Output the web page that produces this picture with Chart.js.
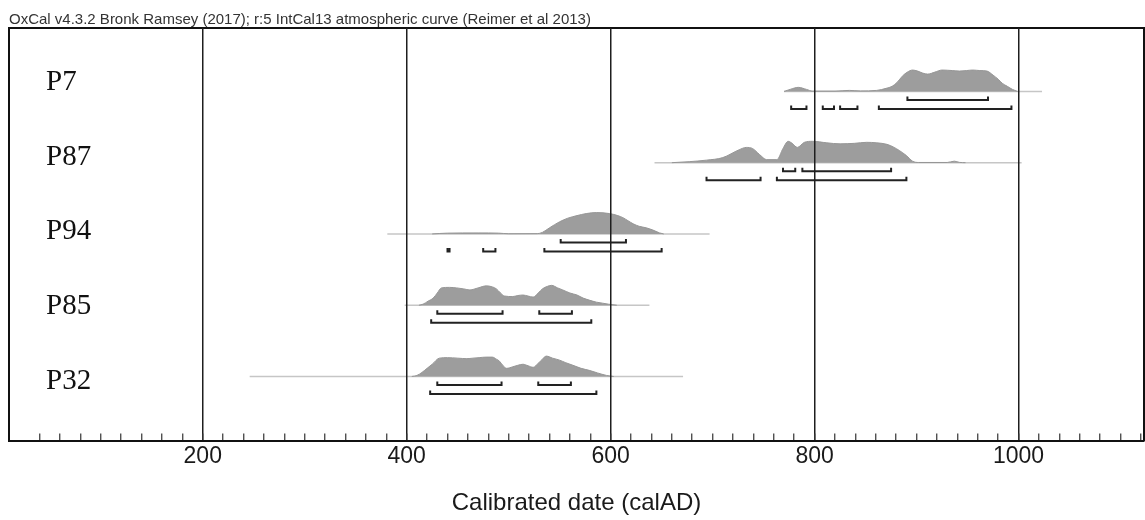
<!DOCTYPE html>
<html>
<head>
<meta charset="utf-8">
<script src="https://cdn.jsdelivr.net/npm/chart.js@4.4.1/dist/chart.umd.min.js"></script>
<style>
  html, body { margin: 0; padding: 0; background: #fff; }
  #wrap { width: 1145px; height: 520px; }
</style>
</head>
<body>
<div id="wrap"><canvas id="oxcalChart"></canvas></div>
<script>
// samples, top to bottom
const samples = ['P7', 'P87', 'P94', 'P85', 'P32'];

// full plotted range of each likelihood (light grey line)
const rangeStart = [770, 643, 381, 398, 246];
const rangeEnd = [1023, 1003, 697, 638, 671];

// probability distributions (relative probability)
const p7Years = [770, 776, 784, 792, 798, 820, 834, 845, 861, 870, 876, 881, 886, 891, 896, 901, 906, 911, 918, 925, 935, 942, 949, 955, 962, 969, 975, 980, 984, 989, 994, 999];
const p7Prob = [0, 2, 4, 2, 0.3, 0.3, 1, 0.5, 1, 3, 5, 9, 15, 19, 21, 20, 18, 17, 19, 21, 20.5, 20, 20.5, 21, 20.5, 20, 16, 12, 8, 5, 2, 0];

const p87Years = [660, 677, 694, 710, 726, 733, 739, 746, 753, 763, 769, 774, 778, 783, 790, 798, 812, 825, 839, 851, 861, 871, 878, 883, 890, 896, 902, 930, 937, 942, 948];
const p87Prob = [0, 1, 2.5, 5, 12.7, 15, 14, 8, 3, 3, 14, 21, 19, 15, 20, 21, 19.5, 18.5, 19, 20, 19.5, 18, 15, 12, 7, 1.5, 0.2, 0.2, 1.5, 0.3, 0];

const p94Years = [425, 440, 470, 490, 500, 528, 533, 540, 550, 558, 567, 576, 586, 599, 607, 612, 617, 622, 628, 635, 641, 648, 652];
const p94Prob = [0, 0.8, 1, 0.8, 0.2, 0.3, 1.5, 6, 12, 15.5, 18, 20, 21, 20, 18, 16, 13, 10, 7.5, 6, 4, 1, 0];

const p85Years = [412, 416, 421, 426, 430, 434, 442, 449, 456, 462, 470, 478, 484, 488, 492, 496, 504, 509, 514, 519, 524, 529, 533, 538, 542, 548, 553, 560, 567, 573, 579, 586, 592, 598, 606];
const p85Prob = [0, 1, 4, 7, 12, 17, 17.5, 17, 16, 15, 17, 19, 18, 16, 12, 9, 8.5, 9.5, 10, 9, 8, 12, 16, 18.5, 19.5, 17, 15, 12, 10, 7, 5, 3, 2, 1, 0];

const p32Years = [405, 410, 415, 420, 425, 432, 440, 450, 459, 465, 471, 478, 484, 488, 491, 495, 498, 504, 509, 514, 519, 524, 529, 533, 537, 543, 550, 556, 563, 571, 579, 587, 596, 603];
const p32Prob = [0, 1, 4, 8, 12, 18, 18.5, 18, 17.5, 18, 18.5, 19, 19, 17, 15, 10, 8, 9.5, 11, 12, 10.5, 9, 13, 17, 20, 18, 16, 13.5, 11, 8, 6, 3.5, 1, 0];

// highest posterior density ranges (calAD)
const p7Range68 = [[891, 970]];
const p7Range95 = [[777, 792], [808, 819], [825, 842], [863, 993]];
const p87Range68 = [[769, 781], [788, 875]];
const p87Range95 = [[694, 747], [763, 890]];
const p94Range68 = [[551, 615]];
const p94Range95 = [[440, 442], [475, 487], [535, 650]];
const p85Range68 = [[430, 494], [530, 562]];
const p85Range95 = [[424, 581]];
const p32Range68 = [[430, 493], [529, 561]];
const p32Range95 = [[423, 586]];

// axis ticks
const majorTicks = [200, 400, 600, 800, 1000];
const minorStep = 20;

const headerText = 'OxCal v4.3.2 Bronk Ramsey (2017); r:5 IntCal13 atmospheric curve (Reimer et al 2013)';

const years = [p7Years, p87Years, p94Years, p85Years, p32Years];
const probs = [p7Prob, p87Prob, p94Prob, p85Prob, p32Prob];
const ranges68 = [p7Range68, p87Range68, p94Range68, p85Range68, p32Range68];
const ranges95 = [p7Range95, p87Range95, p94Range95, p85Range95, p32Range95];

const probScale = 0.3 / 21;
const bracketEnd = 0.05;

const tickValues = [];
for (let v = 40; v <= 1120; v += minorStep) tickValues.push(v);

function bracketPoints(list, y) {
    var pts = [];
    list.forEach(function (r) {
        pts.push({x: r[0], y: y + bracketEnd}, {x: r[0], y: y}, {x: r[1], y: y}, {x: r[1], y: y + bracketEnd}, {x: r[1], y: null});
    });
    return pts;
}

var datasets = [];
samples.forEach(function (name, k) {
    var row = samples.length - 1 - k;
    datasets.push({
        data: [{x: rangeStart[k], y: row}, {x: rangeEnd[k], y: row}],
        borderColor: '#c6c6c6',
        borderWidth: 1.5,
        order: 3
    });
    datasets.push({
        data: years[k].map(function (x, i) { return {x: x, y: row + probs[k][i] * probScale}; }),
        fill: {value: row},
        backgroundColor: '#9d9d9d',
        borderColor: '#969696',
        borderWidth: 1,
        cubicInterpolationMode: 'monotone',
        order: 2
    });
    datasets.push({
        data: bracketPoints(ranges68[k], row - 0.12),
        borderColor: '#222',
        borderWidth: 2,
        spanGaps: false,
        order: 1
    });
    datasets.push({
        data: bracketPoints(ranges95[k], row - 0.247),
        borderColor: '#222',
        borderWidth: 2,
        spanGaps: false,
        order: 1
    });
});

// side axes only draw a border: keep them from taking room
function flatVertical(axis) {
    axis.width = 0;
    axis.paddingTop = 0;
    axis.paddingBottom = 0;
}

var sansFont = 'Liberation Sans, Arial, sans-serif';
var ctx = document.getElementById('oxcalChart').getContext('2d');

new Chart(ctx, {
    type: 'line',
    data: { datasets: datasets },
    options: {
        responsive: true,
        maintainAspectRatio: false,
        animation: false,
        events: [],
        layout: { padding: { left: 9, right: 1, top: 0, bottom: 0 } },
        elements: { point: { radius: 0 } },
        scales: {
            x: {
                type: 'linear',
                min: 10,
                max: 1123,
                afterBuildTicks: function (axis) {
                    axis.ticks = tickValues.map(function (v) { return {value: v}; });
                },
                afterFit: function (axis) {
                    axis.paddingLeft = 0;
                    axis.paddingRight = 0;
                },
                grid: {
                    z: 1,
                    color: function (c) { return c.tick && majorTicks.includes(c.tick.value) ? '#1e1e1e' : 'rgba(0,0,0,0)'; },
                    lineWidth: 1.5,
                    tickLength: -7,
                    tickWidth: 1.2,
                    tickColor: '#333'
                },
                border: { display: true, color: '#111', width: 2, z: 1 },
                ticks: {
                    autoSkip: false,
                    maxRotation: 0,
                    padding: 9,
                    color: '#1a1a1a',
                    font: { family: sansFont, size: 23 },
                    callback: function (v) { return majorTicks.includes(v) ? String(v) : ''; }
                },
                title: {
                    display: true,
                    text: 'Calibrated date (calAD)',
                    color: '#1a1a1a',
                    font: { family: sansFont, size: 24 },
                    padding: { top: 10, bottom: 2 }
                }
            },
            x2: {
                type: 'linear',
                position: 'top',
                min: 10,
                max: 1123,
                grid: { drawOnChartArea: false, drawTicks: false },
                ticks: { display: false },
                border: { display: true, color: '#111', width: 2 },
                title: {
                    display: true,
                    text: headerText,
                    align: 'start',
                    color: '#333',
                    font: { family: sansFont, size: 15 },
                    padding: { top: 11, bottom: -1 }
                }
            },
            y: {
                type: 'linear',
                min: -0.9,
                max: 4.89,
                afterBuildTicks: function (axis) {
                    axis.ticks = samples.map(function (s, i) { return {value: i * 1.05 - 0.07}; });
                },
                afterFit: flatVertical,
                grid: { display: false, drawTicks: false },
                border: { display: true, color: '#111', width: 2 },
                ticks: {
                    mirror: true,
                    autoSkip: false,
                    padding: 37,
                    color: '#111',
                    font: { family: 'Liberation Serif, Times New Roman, serif', size: 29 },
                    callback: function (v, i) { return samples[samples.length - 1 - i]; }
                }
            },
            y2: {
                type: 'linear',
                position: 'right',
                min: -0.9,
                max: 4.89,
                afterFit: flatVertical,
                grid: { drawOnChartArea: false, drawTicks: false },
                ticks: { display: false },
                border: { display: true, color: '#111', width: 2 }
            }
        },
        plugins: {
            legend: { display: false },
            tooltip: { enabled: false }
        }
    }
});
</script>
</body>
</html>
